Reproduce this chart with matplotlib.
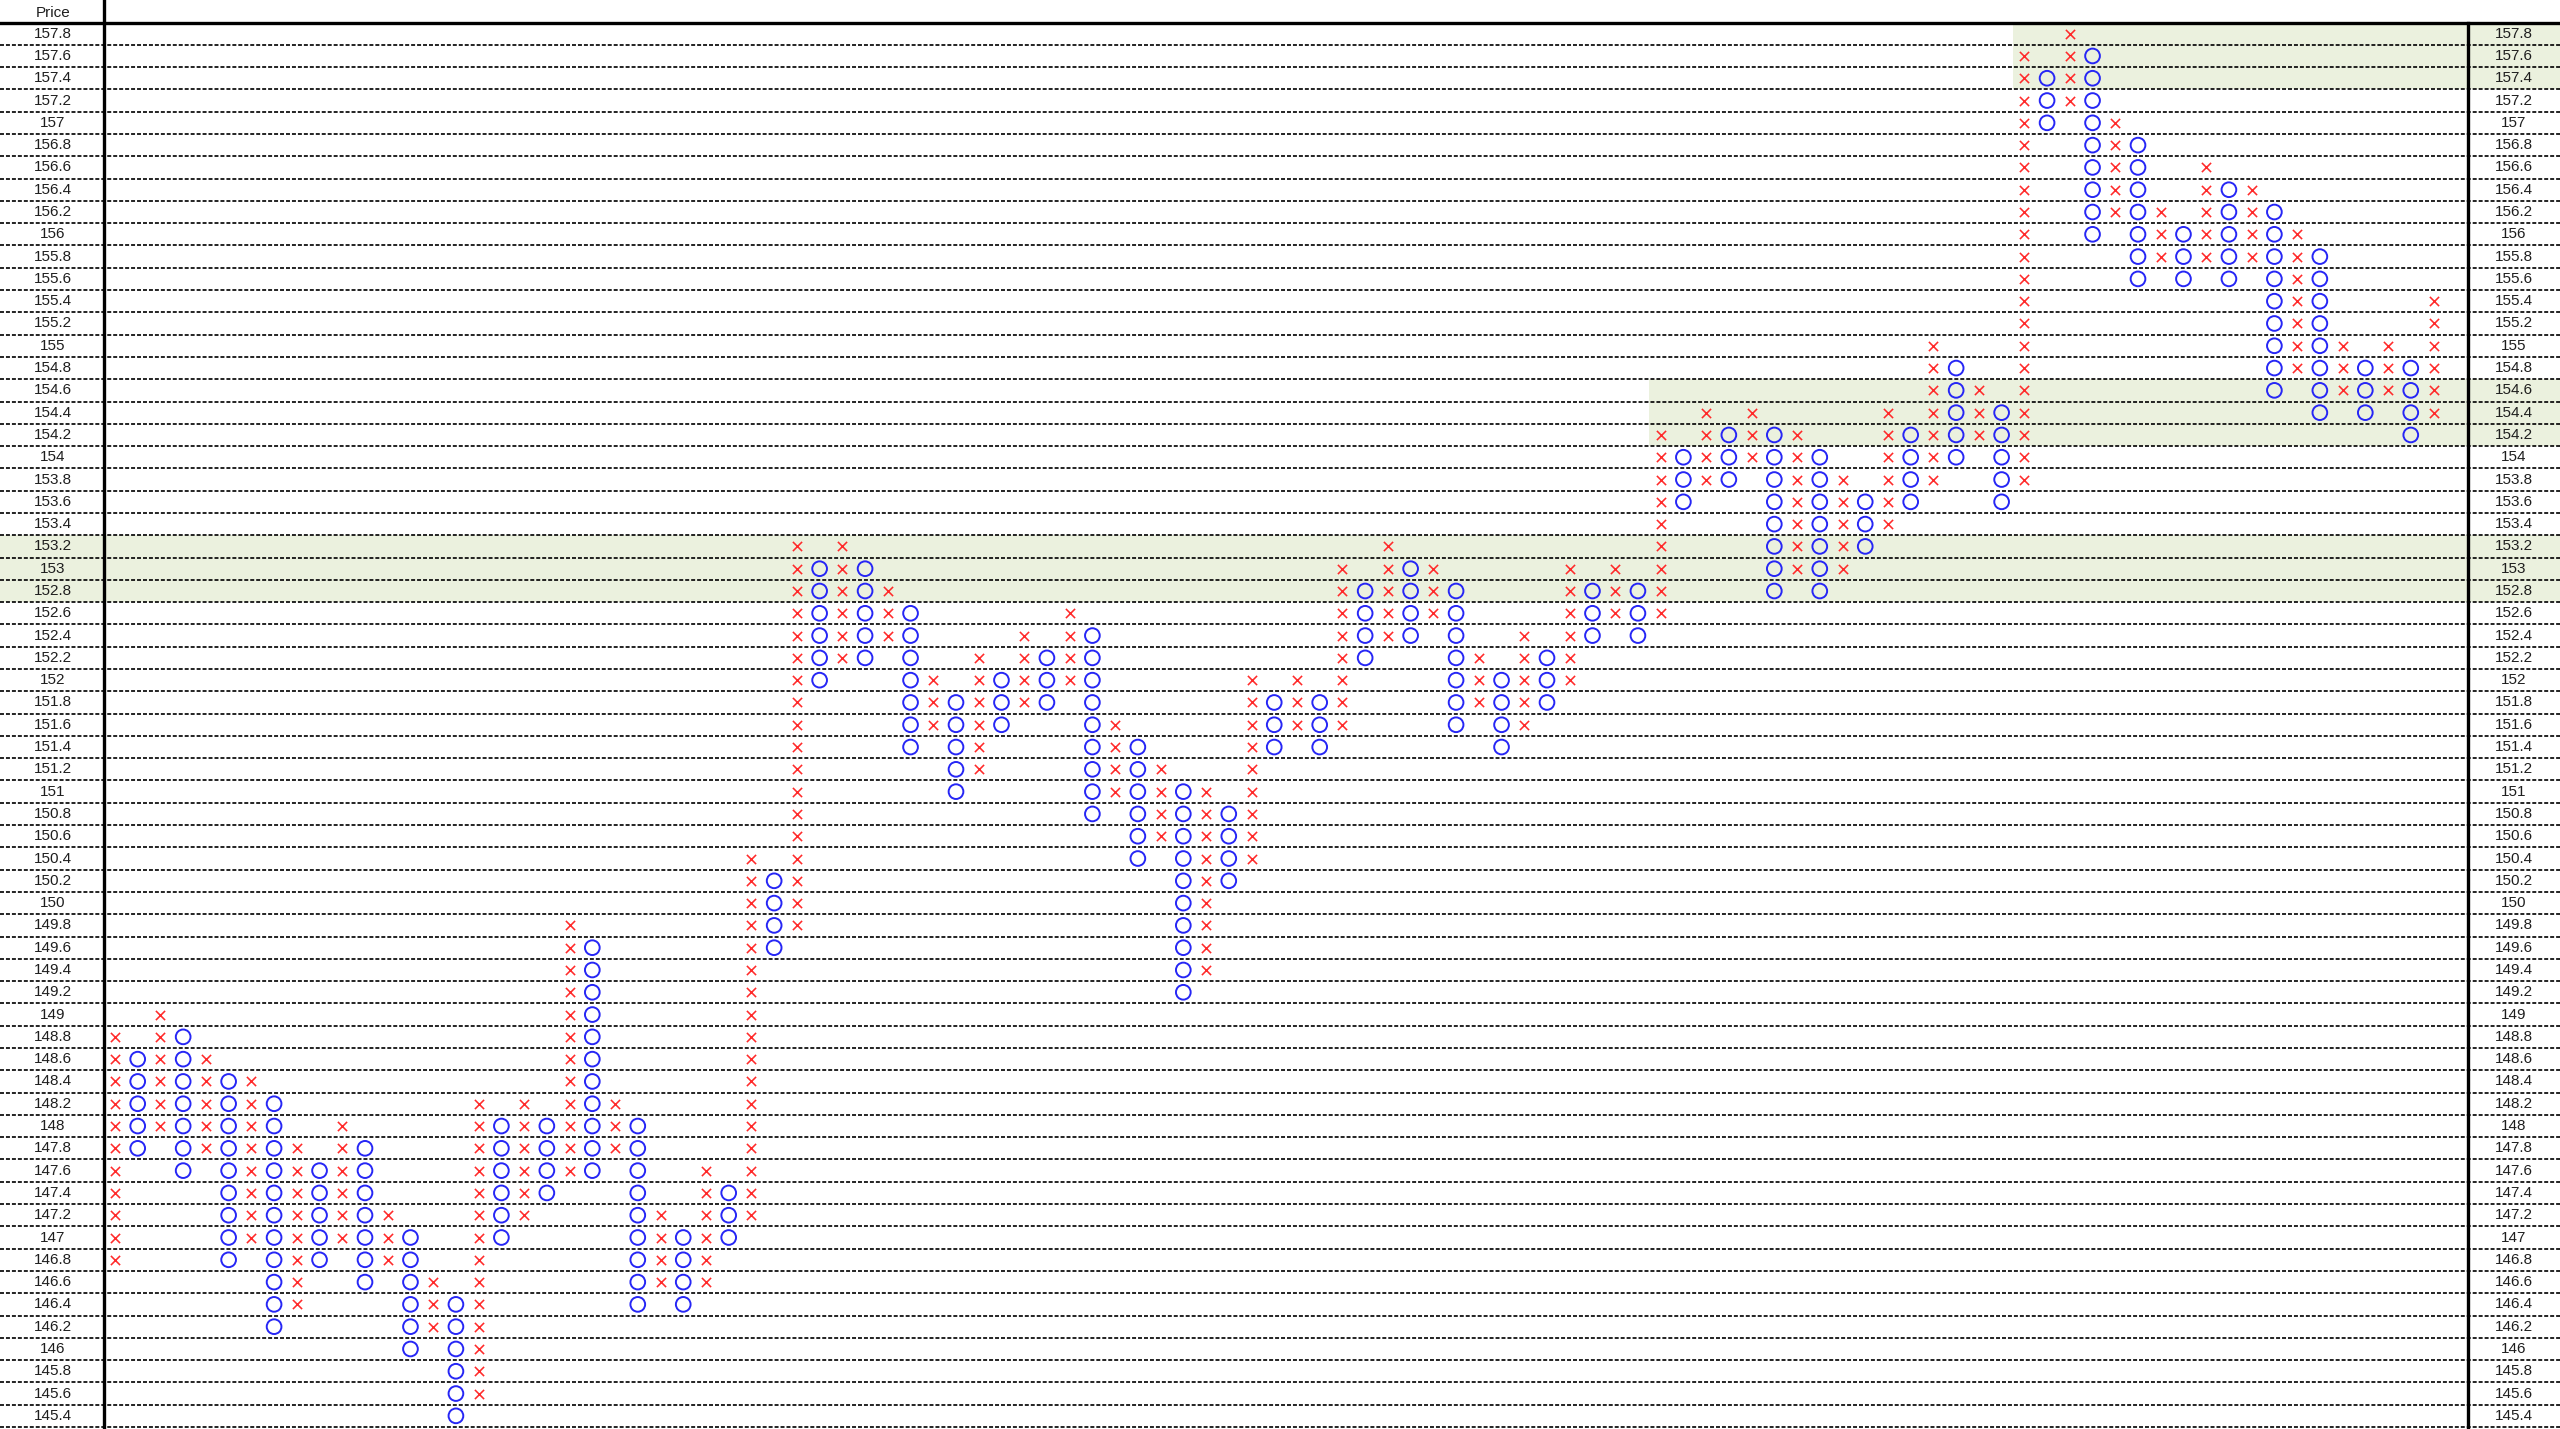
import numpy as np
import matplotlib.pyplot as plt

# ───────────── point & figure data (box = 0.2) ─────────────
BOX = 0.2
price_top, price_bottom = 157.8, 145.4

# one entry per column, columns alternate X (rising) / O (falling), first is X
col_low = [146.8, 147.8, 148.0, 147.6, 147.8, 146.8, 147.0, 146.2, 146.4, 146.8,
           147.0, 146.6, 146.8, 146.0, 146.2, 145.4, 145.6, 147.0, 147.2, 147.4,
           147.6, 147.6, 147.8, 146.4, 146.6, 146.4, 146.6, 147.0, 147.2, 149.6,
           149.8, 152.0, 152.2, 152.2, 152.4, 151.4, 151.6, 151.0, 151.2, 151.6,
           151.8, 151.8, 152.0, 150.8, 151.0, 150.4, 150.6, 149.2, 149.4, 150.2,
           150.4, 151.4, 151.6, 151.4, 151.6, 152.2, 152.4, 152.4, 152.6, 151.6,
           151.8, 151.4, 151.6, 151.8, 152.0, 152.4, 152.6, 152.4, 152.6, 153.6,
           153.8, 153.8, 154.0, 152.8, 153.0, 152.8, 153.0, 153.2, 153.4, 153.6,
           153.8, 154.0, 154.2, 153.6, 153.8, 157.0, 157.2, 156.0, 156.2, 155.6,
           155.8, 155.6, 155.8, 155.6, 155.8, 154.6, 154.8, 154.4, 154.6, 154.4,
           154.6, 154.2, 154.4]
col_high = [148.8, 148.6, 149.0, 148.8, 148.6, 148.4, 148.4, 148.2, 147.8, 147.6,
            148.0, 147.8, 147.2, 147.0, 146.6, 146.4, 148.2, 148.0, 148.2, 148.0,
            149.8, 149.6, 148.2, 148.0, 147.2, 147.0, 147.6, 147.4, 150.4, 150.2,
            153.2, 153.0, 153.2, 153.0, 152.8, 152.6, 152.0, 151.8, 152.2, 152.0,
            152.4, 152.2, 152.6, 152.4, 151.6, 151.4, 151.2, 151.0, 151.0, 150.8,
            152.0, 151.8, 152.0, 151.8, 153.0, 152.8, 153.2, 153.0, 153.0, 152.8,
            152.2, 152.0, 152.4, 152.2, 153.0, 152.8, 153.0, 152.8, 154.2, 154.0,
            154.4, 154.2, 154.4, 154.2, 154.2, 154.0, 153.8, 153.6, 154.4, 154.2,
            155.0, 154.8, 154.6, 154.4, 157.6, 157.4, 157.8, 157.6, 157.0, 156.8,
            156.2, 156.0, 156.6, 156.4, 156.4, 156.2, 156.0, 155.8, 155.0, 154.8,
            155.0, 154.8, 155.4]
N_COLS = 104   # last column is still empty

# shaded price bands: (low, high, first column)
bands = [(152.8, 153.2, None), (154.2, 154.6, 68), (157.4, 157.8, 84)]

prices = np.round(np.arange(price_bottom, price_top + BOX / 2, BOX), 1)

# ───────────── layout (in column / price units) ─────────────
COL_PX = 22.73
X_LEFT = -0.5 - 103.6 / COL_PX
X_RIGHT = N_COLS - 0.5 + 92.4 / COL_PX
Y_TOP, Y_BOT = 158.102, 145.282
LEFT_LBL = (53 - 115) / COL_PX
RIGHT_LBL = (2514 - 115) / COL_PX
BAND_CLR = "#EBF1DE"
RED, BLUE = "#FF2A2A", "#2626F5"

plt.rcParams["font.family"] = ["Liberation Sans", "DejaVu Sans"]
fig = plt.figure(figsize=(25.6, 14.29), dpi=100)
ax = fig.add_axes([0, 0, 1, 1])
ax.set_xlim(X_LEFT, X_RIGHT)
ax.set_ylim(Y_BOT, Y_TOP)
ax.axis("off")

for lo, hi, c0 in bands:
    x0 = X_LEFT if c0 is None else c0 - 0.5
    ax.fill_between([x0, X_RIGHT], lo - BOX / 2, hi + BOX / 2,
                    color=BAND_CLR, lw=0, zorder=0)

# dashed row separators
for p in prices:
    ax.plot([X_LEFT, X_RIGHT], [p - BOX / 2] * 2, color="#111111",
            lw=1.3, dashes=(2.2, 1.1), zorder=1)

# frame lines
ax.plot([X_LEFT, X_RIGHT], [price_top + BOX / 2] * 2, color="black", lw=2.4, zorder=2)
ax.plot([-0.5, -0.5], [Y_BOT, Y_TOP], color="black", lw=2.4, zorder=2)
ax.plot([N_COLS - 0.5] * 2, [Y_BOT, price_top + BOX / 2], color="black", lw=2.4, zorder=2)

# price labels
for p in prices:
    lbl = f"{p:g}"
    for xl in (LEFT_LBL, RIGHT_LBL):
        ax.text(xl, p, lbl, ha="center", va="center", fontsize=11,
                color="#1e1e1e", zorder=3)
ax.text(LEFT_LBL, 157.988, "Price", ha="center", va="center",
        fontsize=11, color="#1e1e1e", zorder=3)

# X / O boxes
xs_x, ys_x, xs_o, ys_o = [], [], [], []
for k, (lo, hi) in enumerate(zip(col_low, col_high)):
    n = int(round((hi - lo) / BOX)) + 1
    col_prices = lo + BOX * np.arange(n)
    if k % 2 == 0:
        xs_x += [k] * n; ys_x += list(col_prices)
    else:
        xs_o += [k] * n; ys_o += list(col_prices)

ax.scatter(xs_x, ys_x, marker="x", s=44, c=RED, linewidths=1.15, zorder=4)
ax.scatter(xs_o, ys_o, marker="o", s=112, facecolors="none",
           edgecolors=BLUE, linewidths=1.4, zorder=4)

fig.savefig("out.png", dpi=100)
